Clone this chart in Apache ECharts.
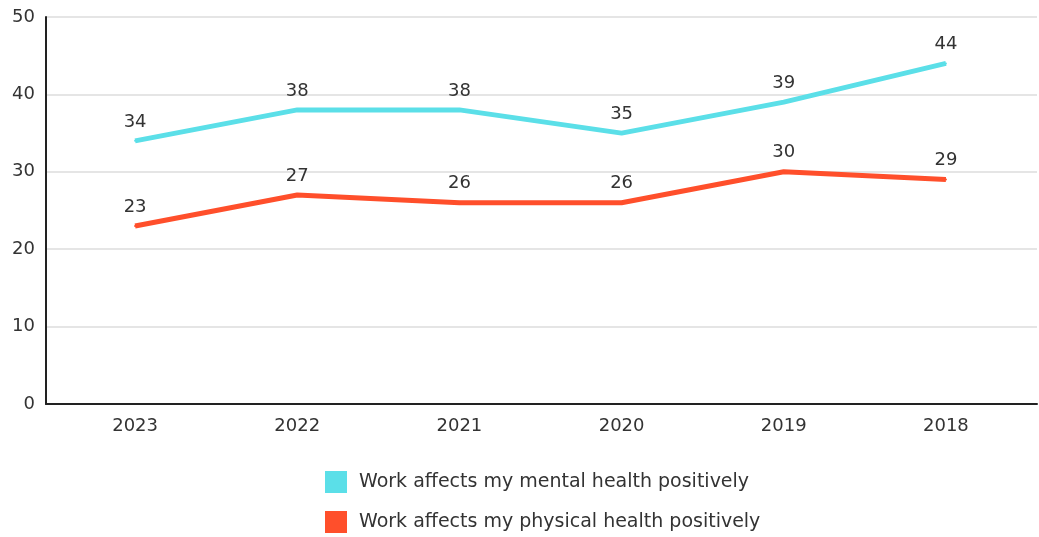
<!DOCTYPE html>
<html>
<head>
<meta charset="utf-8">
<script src="https://cdn.jsdelivr.net/npm/echarts@6/dist/echarts.min.js"></script>
<style>
html,body{margin:0;padding:0;background:#fff;}
#chart{width:1039px;height:537px;}
</style>
</head>
<body>
<div id="chart"></div>
<script>
var categories = ['2023', '2022', '2021', '2020', '2019', '2018'];
var mentalName = 'Work affects my mental health positively';
var physicalName = 'Work affects my physical health positively';
var mentalValues = [34, 38, 38, 35, 39, 44];
var physicalValues = [23, 27, 26, 26, 30, 29];
var yTicks = [0, 10, 20, 30, 40, 50];

var FONT = '"DejaVu Sans", sans-serif';
var TEXT = '#333';
var FS = 18;
var CYAN = '#5BDFE8';
var RED = '#FF4F2B';
var chart = echarts.init(document.getElementById('chart'));
var labelStyle = {show: true, position: 'top', distance: 9, color: TEXT, fontSize: FS, fontFamily: FONT};
function legendAt(top, name) {
  return {
    orient: 'vertical', left: 325, top: top, padding: 0,
    itemWidth: 22, itemHeight: 22, itemGap: 18,
    icon: 'rect', selectedMode: false,
    textStyle: {color: TEXT, fontSize: 19, fontFamily: FONT, padding: [0, 0, 0, 7]},
    data: [name]
  };
}
chart.setOption({
  animation: false,
  textStyle: {fontFamily: FONT},
  grid: [
    {left: 46, right: 2, top: 17, bottom: 133, containLabel: false},
    {left: 54, right: 12, top: 17, bottom: 133, containLabel: false}
  ],
  legend: [legendAt(471, mentalName), legendAt(511, physicalName)],
  xAxis: [
    {type: 'category', gridIndex: 0, data: categories, boundaryGap: true,
     axisLine: {show: true, lineStyle: {color: '#222', width: 2}},
     axisTick: {show: false}, axisLabel: {show: false}, splitLine: {show: false}},
    {type: 'category', gridIndex: 1, data: categories, boundaryGap: true,
     axisLine: {show: false}, axisTick: {show: false},
     axisLabel: {show: true, color: TEXT, fontSize: FS, fontFamily: FONT, margin: 13}}
  ],
  yAxis: [
    {type: 'value', gridIndex: 0, min: yTicks[0], max: yTicks[yTicks.length - 1], interval: 10,
     axisLine: {show: true, lineStyle: {color: '#222', width: 2}},
     axisTick: {show: false},
     axisLabel: {color: TEXT, fontSize: FS, fontFamily: FONT, margin: 11},
     splitLine: {show: true, lineStyle: {color: '#dcdcdc', width: 1.5}}},
    {type: 'value', gridIndex: 1, min: yTicks[0], max: yTicks[yTicks.length - 1], interval: 10,
     show: false, splitLine: {show: false}}
  ],
  series: [
    {name: mentalName, type: 'line', xAxisIndex: 1, yAxisIndex: 1, data: mentalValues,
     color: CYAN, lineStyle: {width: 5, color: CYAN}, symbol: 'circle', symbolSize: 2, showSymbol: true,
     itemStyle: {color: CYAN}, label: labelStyle},
    {name: physicalName, type: 'line', xAxisIndex: 1, yAxisIndex: 1, data: physicalValues,
     color: RED, lineStyle: {width: 5, color: RED}, symbol: 'circle', symbolSize: 2, showSymbol: true,
     itemStyle: {color: RED}, label: labelStyle}
  ]
});
</script>
</body>
</html>
